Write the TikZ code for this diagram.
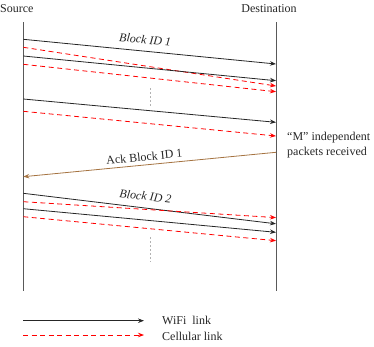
\documentclass[tikz,border=0pt]{standalone}
\usepackage{fontspec}
\setmainfont{Liberation Serif}
\usetikzlibrary{arrows.meta, positioning}
\definecolor{ackbrown}{RGB}{165,115,65}

\begin{document}
\begin{tikzpicture}[
  x=1pt, y=-1pt,
  >={Stealth[length=6pt, width=4.5pt]},
  every node/.style={font=\fontsize{12}{14.3}\selectfont, text=black!85},
  lifeline/.style={draw=black!65, line width=0.9pt},
  wifi/.style={->, draw=black!85, line width=0.8pt},
  cell/.style={->, draw=red, line width=0.8pt, dash pattern=on 5pt off 3.5pt},
  ack/.style={->, draw=ackbrown, line width=0.8pt},
  gap/.style={draw=gray!60, line width=0.6pt, dash pattern=on 2pt off 2pt},
  msg/.style={sloped, inner sep=2pt},
  blockmsg/.style={msg, font=\fontsize{12}{14.3}\selectfont\itshape}
]
\useasboundingbox (0,0) rectangle (374,346);

% --- Lifelines ---
\node[anchor=base west, inner sep=0pt] (src) at (0,12) {Source};
\node[anchor=base, inner sep=0pt] (dst) at (269,12) {Destination};
\coordinate (srcTop) at (23.3,22);
\coordinate (srcBot) at (23.3,291);
\coordinate (dstTop) at (276,22);
\coordinate (dstBot) at (276,291);
\draw[lifeline] (srcTop) -- (srcBot);
\draw[lifeline] (dstTop) -- (dstBot);

% --- Block 1: packet ends ---
\coordinate (w1s) at (23.3,39.3);   \coordinate (w1e) at (276,64);
\coordinate (c1s) at (23.3,47.3);   \coordinate (c1e) at (276,86);
\coordinate (w2s) at (23.3,56);     \coordinate (w2e) at (276,80.7);
\coordinate (c2s) at (23.3,64.3);   \coordinate (c2e) at (276,91.7);
\coordinate (w3s) at (23.3,99);     \coordinate (w3e) at (276,122.3);
\coordinate (c3s) at (23.3,111.3);  \coordinate (c3e) at (276,136);

% --- Block 1: packets ---
\draw[wifi] (w1s) -- node[blockmsg, above=5pt, pos=0.478] {Block ID 1} (w1e);
\draw[cell] (c1s) -- (c1e);
\draw[wifi] (w2s) -- (w2e);
\draw[cell] (c2s) -- (c2e);
\draw[wifi] (w3s) -- (w3e);
\draw[cell] (c3s) -- (c3e);

% --- Gap between packets ---
\coordinate (g1a) at (150,88);   \coordinate (g1b) at (150,106);
\draw[gap] (g1a) -- (g1b);

% --- Acknowledgement ---
\node[anchor=west, align=left, inner sep=0pt] (recv) at (287,145) {``M'' independent\\packets received};
\coordinate (ackS) at (276,152.3);  \coordinate (ackE) at (23.3,176.7);
\draw[ack] (ackS) -- node[msg, above=1.5pt, pos=0.518] {Ack Block ID 1} (ackE);

% --- Block 2: packet ends ---
\coordinate (w4s) at (23.3,193.3);  \coordinate (w4e) at (276,223.8);
\coordinate (c4s) at (23.3,201.7);  \coordinate (c4e) at (276,217.6);
\coordinate (w5s) at (23.3,208.7);  \coordinate (w5e) at (276,232.3);
\coordinate (c5s) at (23.3,216.7);  \coordinate (c5e) at (276,240.7);

% --- Block 2: packets ---
\draw[wifi] (w4s) -- node[blockmsg, above=5pt, pos=0.478] {Block ID 2} (w4e);
\draw[cell] (c4s) -- (c4e);
\draw[wifi] (w5s) -- (w5e);
\draw[cell] (c5s) -- (c5e);

\coordinate (g2a) at (150,237);  \coordinate (g2b) at (150,262);
\draw[gap] (g2a) -- (g2b);

% --- Legend ---
\coordinate (wifiA) at (23,320.7);  \coordinate (wifiB) at (144,320.7);
\coordinate (cellA) at (23,335);    \coordinate (cellB) at (144,335);
\draw[wifi] (wifiA) -- (wifiB);
\draw[cell] (cellA) -- (cellB);
\node[right=18pt of wifiB, inner sep=0pt] (wifitxt) {WiFi\ \ link};
\node[right=18pt of cellB, inner sep=0pt, yshift=-1.5pt] (celltxt) {Cellular link};

\end{tikzpicture}
\end{document}
